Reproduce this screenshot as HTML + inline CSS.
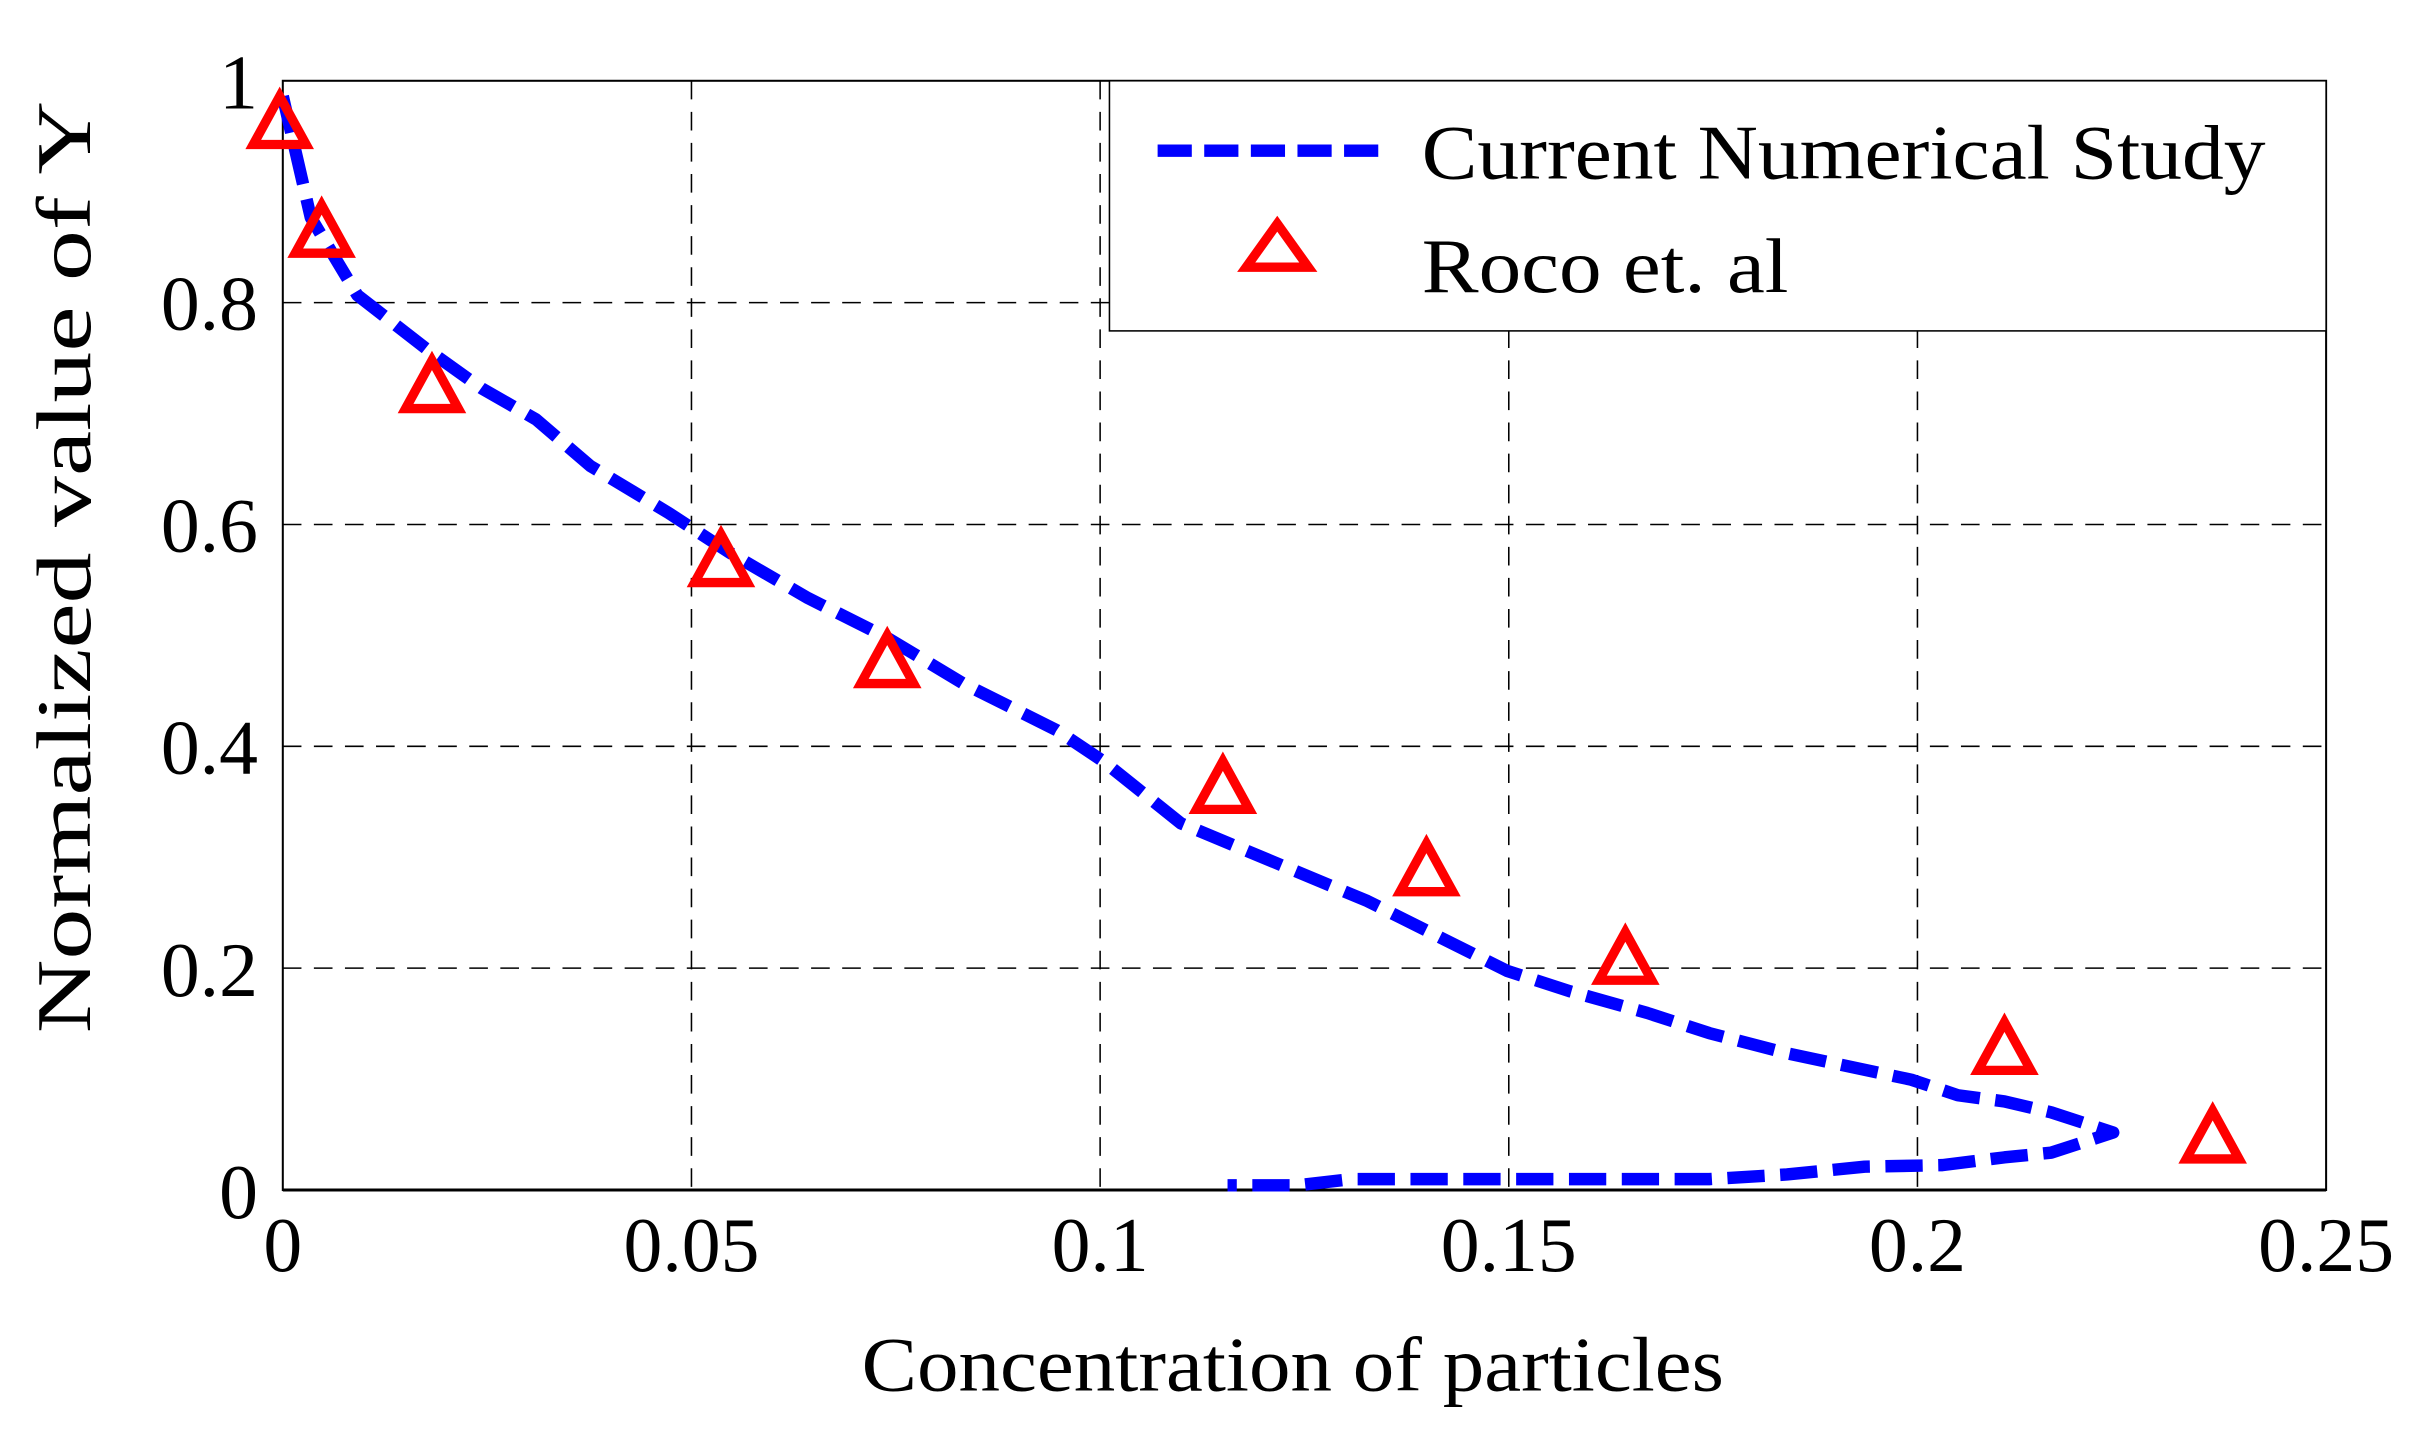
<!DOCTYPE html>
<html><head><meta charset="utf-8"><style>html,body{margin:0;padding:0;background:#fff}svg{display:block}</style></head>
<body>
<svg width="2424" height="1437" viewBox="0 0 1560 925" preserveAspectRatio="none" xmlns="http://www.w3.org/2000/svg">
<rect width="1560" height="925" fill="#fff"/>
<g stroke="#000" stroke-width="1" stroke-dasharray="12,8" fill="none">
<line x1="445" y1="52" x2="445" y2="766"/>
<line x1="708" y1="52" x2="708" y2="766"/>
<line x1="971" y1="52" x2="971" y2="766"/>
<line x1="1234" y1="52" x2="1234" y2="766"/>
<line x1="182" y1="194.8" x2="1497" y2="194.8"/>
<line x1="182" y1="337.6" x2="1497" y2="337.6"/>
<line x1="182" y1="480.4" x2="1497" y2="480.4"/>
<line x1="182" y1="623.2" x2="1497" y2="623.2"/>
</g>
<rect x="182" y="52" width="1315" height="714" fill="none" stroke="#000" stroke-width="1.3"/>
<line x1="182" y1="766" x2="1497" y2="766" stroke="#000" stroke-width="2"/>
<g font-family="Liberation Serif, serif" font-size="50" fill="#000">
<g text-anchor="middle">
<text x="182" y="818">0</text>
<text x="445" y="818">0.05</text>
<text x="708" y="818">0.1</text>
<text x="971" y="818">0.15</text>
<text x="1234" y="818">0.2</text>
<text x="1497" y="818">0.25</text>
</g>
<g text-anchor="end">
<text x="166" y="784">0</text>
<text x="166" y="641">0.2</text>
<text x="166" y="498">0.4</text>
<text x="166" y="355">0.6</text>
<text x="166" y="212">0.8</text>
<text x="166" y="70">1</text>
</g>
<text x="832" y="895" text-anchor="middle" font-size="50" textLength="555" lengthAdjust="spacingAndGlyphs">Concentration of particles</text>
<text transform="translate(58,365) rotate(-90)" text-anchor="middle" font-size="50" textLength="600" lengthAdjust="spacingAndGlyphs">Normalized  value of Y</text>
</g>
<rect x="714" y="52" width="783" height="161" fill="#fff" stroke="#000" stroke-width="1"/>
<line x1="745" y1="97" x2="890" y2="97" stroke="#0000ff" stroke-width="8" stroke-dasharray="22,8"/>
<polygon points="822,149 842,177 802,177" fill="none" stroke="#ff0000" stroke-width="6" transform="translate(0,-5)"/>
<g font-family="Liberation Serif, serif" font-size="50" fill="#000">
<text x="915" y="115" textLength="543" lengthAdjust="spacingAndGlyphs">Current Numerical Study</text>
<text x="915" y="188" textLength="236" lengthAdjust="spacingAndGlyphs">Roco et. al</text>
</g>
<polyline fill="none" stroke="#0000ff" stroke-width="8" stroke-dasharray="24,10" stroke-linejoin="round"
points="182,62 200,140 230,190 275,225 310,250 345,270 380,300 430,330 470,356 520,385 570,410 620,440 680,470 710,490 760,530 820,555 880,580 920,600 970,625 1010,638 1060,652 1100,665 1150,678 1230,695 1260,705 1290,709 1320,716 1360,729 1320,742 1290,745 1250,750 1200,751 1150,756 1100,759 1000,759 900,759 870,759 835,763 790,763"/>
<g fill="none" stroke="#ff0000" stroke-width="6">
<polygon points="180,62 197,93 163,93"/>
<polygon points="207,132 224,163 190,163"/>
<polygon points="278,232 295,263 261,263"/>
<polygon points="464,344 481,375 447,375"/>
<polygon points="571,409 588,440 554,440"/>
<polygon points="787,490 804,521 770,521"/>
<polygon points="918,543 935,574 901,574"/>
<polygon points="1046,600 1063,631 1029,631"/>
<polygon points="1290,658 1307,689 1273,689"/>
<polygon points="1424,715 1441,746 1407,746"/>
</g>
</svg>
</body></html>
